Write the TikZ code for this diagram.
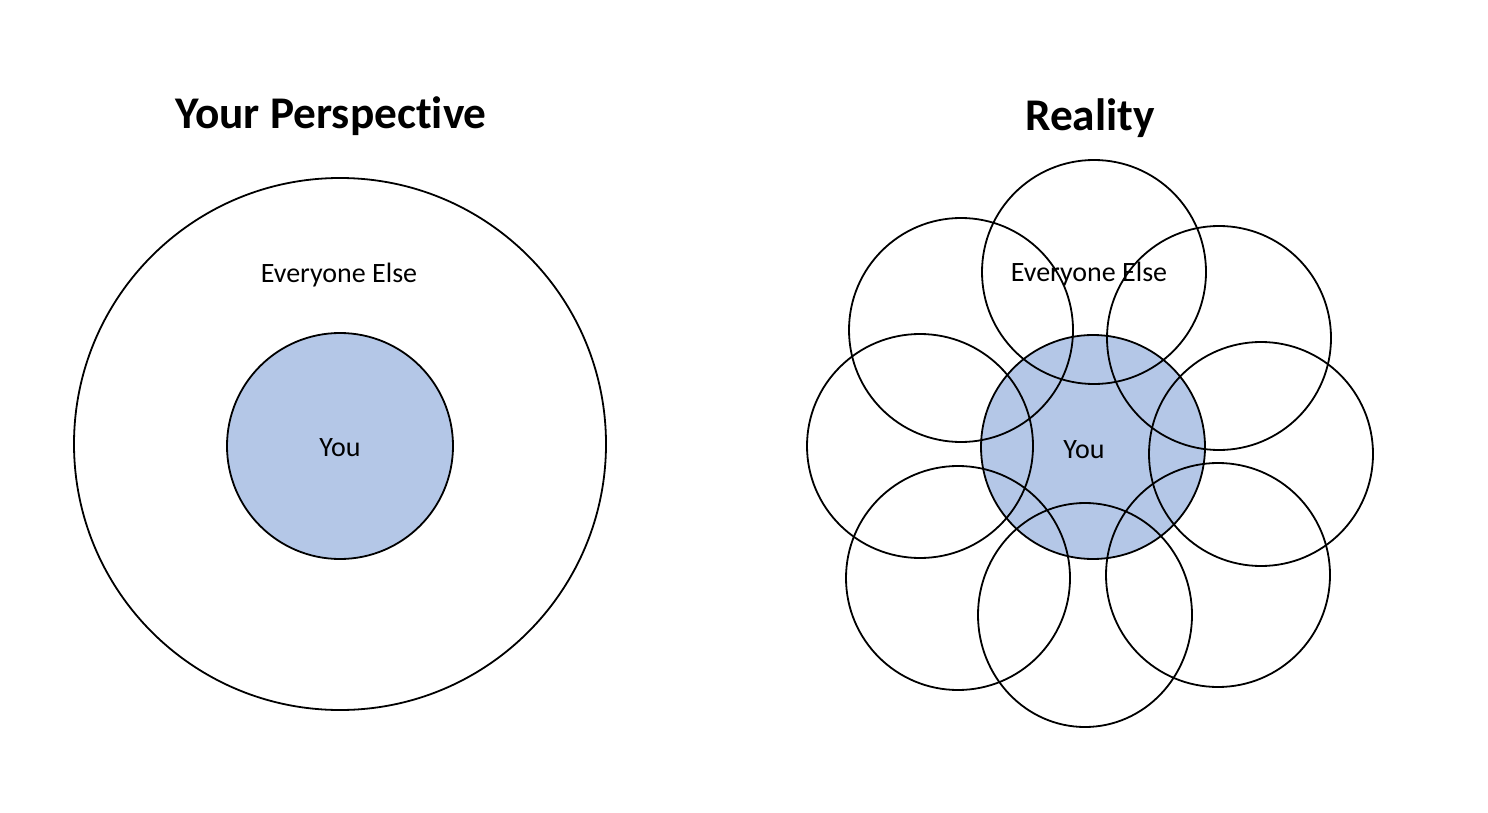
\documentclass[tikz,border=0pt]{standalone}
\usepackage{fontspec}
\setmainfont[Ligatures={TeX,NoCommon}]{Carlito}
\definecolor{youblue}{HTML}{B4C7E7}
\tikzset{ring/.style={draw, line width=1.35pt},
  youring/.style={ring, fill=youblue},
  heading/.style={font=\fontsize{34}{40}\selectfont\bfseries},
  label/.style={font=\fontsize{21}{25}\selectfont}}

\begin{document}
\begin{tikzpicture}[x=0.75pt, y=-0.75pt]
  \useasboundingbox (0, 0) rectangle (1488, 813);
  % your perspective
  \draw[ring] (340, 444) circle [radius=266];
  \draw[youring] (340, 446) circle [radius=113];
  \node[heading] (persp) at (331, 116) {Your Perspective};
  \node[label] (elseL) at (339, 275) {Everyone Else};
  \node[label] (youL) at (340, 448) {You};
  % reality
  \draw[youring] (1093, 447) circle [radius=112];
  \foreach \p/\rx in {(1094, 272)/112, (961, 330)/112, (1219, 338)/112,
                      (920, 446)/113, (1261, 454)/112, (958, 578)/112,
                      (1085, 615)/107, (1218, 575)/112}
    \draw[ring] \p ellipse [x radius=\rx, y radius=112];
  \node[heading] (real) at (1090, 118) {Reality};
  \node[label] (elseR) at (1089, 274) {Everyone Else};
  \node[label] (youR) at (1084, 450) {You};
\end{tikzpicture}
\end{document}
